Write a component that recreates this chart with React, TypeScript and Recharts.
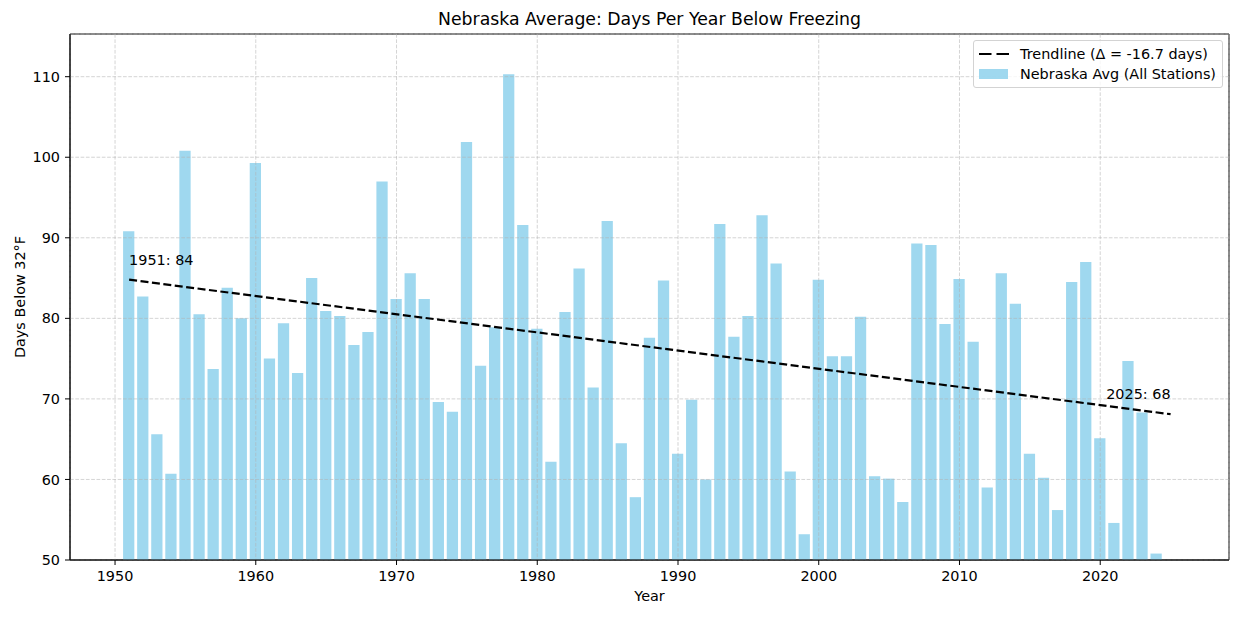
/**
 * FreezingDays — Nebraska days per year below 32°F, bars plus linear trend.
 */

import {
  ComposedChart,
  Bar,
  Line,
  XAxis,
  YAxis,
  CartesianGrid,
  Legend,
  ReferenceDot,
  ReferenceArea,
} from 'recharts';

const FIRST_YEAR = 1951;

// statewide average, one value per year 1951..2024
const daysBelowFreezing = [
  90.8, 82.7, 65.6, 60.7, 100.8, 80.5, 73.7, 83.8, 80.0, 99.3,
  75.0, 79.4, 73.2, 85.0, 80.9, 80.3, 76.7, 78.3, 97.0, 82.4,
  85.6, 82.4, 69.6, 68.4, 101.9, 74.1, 78.9, 110.3, 91.6, 78.7,
  62.2, 80.8, 86.2, 71.4, 92.1, 64.5, 57.8, 77.6, 84.7, 63.2,
  69.9, 60.0, 91.7, 77.7, 80.3, 92.8, 86.8, 61.0, 53.2, 84.8,
  75.3, 75.3, 80.2, 60.4, 60.1, 57.2, 89.3, 89.1, 79.3, 84.9,
  77.1, 59.0, 85.6, 81.8, 63.2, 60.2, 56.2, 84.5, 87.0, 65.1,
  54.6, 74.7, 68.3, 50.8,
];

const trendYears = [1951, 2025];
const trendValues = [84.8, 68.1];

const xTicks = [1950, 1960, 1970, 1980, 1990, 2000, 2010, 2020];
const yTicks = [50, 60, 70, 80, 90, 100, 110];

const X_DOMAIN: [number, number] = [1946.8, 2029.15];
const Y_DOMAIN: [number, number] = [50, 115.3];
const LABEL_OFFSET = 2.5;

const FONT = '"DejaVu Sans", sans-serif';
const FS = 14.4;
const BAR_FILL = '#87ceeb';
const delta = (trendValues[1] - trendValues[0]).toFixed(1);

const years = daysBelowFreezing.map((_, i) => FIRST_YEAR + i);
const allYears = Array.from(new Set([...years, ...trendYears])).sort((a, b) => a - b);

const data = allYears.map((year) => {
  const i = years.indexOf(year);
  const t = trendYears.indexOf(year);
  return {
    year,
    days: i >= 0 ? daysBelowFreezing[i] : null,
    trend: t >= 0 ? trendValues[t] : null,
  };
});

function LegendBox() {
  const row = { display: 'flex', alignItems: 'center', height: 20 } as const;
  return (
    <div
      style={{
        border: '1px solid #d3d3d3',
        borderRadius: 3,
        background: 'rgba(255,255,255,0.8)',
        padding: '3px 6px 3px 5px',
        fontFamily: FONT,
        fontSize: FS,
        lineHeight: '20px',
        color: '#000',
        whiteSpace: 'nowrap',
      }}
    >
      <div style={row}>
        <svg width={30} height={10}>
          <line x1={0} y1={5} x2={30} y2={5} stroke="#000" strokeWidth={2.2} strokeDasharray="12.5 5" />
        </svg>
        <span style={{ marginLeft: 11 }}>Trendline (Δ = {delta} days)</span>
      </div>
      <div style={row}>
        <svg width={30} height={10}>
          <rect x={0} y={0} width={29} height={10} fill={BAR_FILL} fillOpacity={0.8} />
        </svg>
        <span style={{ marginLeft: 11 }}>Nebraska Avg (All Stations)</span>
      </div>
    </div>
  );
}

function Annotation({ cx, cy, text, anchor }: { cx?: number; cy?: number; text: string; anchor: 'start' | 'end' }) {
  return (
    <text x={cx} y={cy} textAnchor={anchor} dominantBaseline="central" fontSize={FS} fontFamily={FONT} fill="#000">
      {text}
    </text>
  );
}

export default function App() {
  return (
    <div style={{ position: 'absolute', left: 0, top: 0, width: 1242, height: 620, fontFamily: FONT, background: '#fff' }}>
      <div
        style={{
          position: 'absolute',
          left: 70,
          width: 1159,
          top: 9,
          textAlign: 'center',
          fontSize: 17.3,
          lineHeight: '20px',
          color: '#000',
        }}
      >
        Nebraska Average: Days Per Year Below Freezing
      </div>
      <ComposedChart
        width={1242}
        height={620}
        data={data}
        margin={{ top: 34, right: 13, bottom: 0, left: 0 }}
        style={{ fontFamily: FONT }}
      >
        <XAxis
          dataKey="year"
          type="number"
          domain={X_DOMAIN}
          ticks={xTicks}
          allowDataOverflow
          height={60}
          tickSize={5}
          tickMargin={6}
          tick={{ fill: '#000', fontSize: FS }}
          tickLine={{ stroke: '#000' }}
          axisLine={{ stroke: '#000' }}
          label={{ value: 'Year', position: 'insideBottom', offset: 19, fill: '#000', fontSize: FS }}
        />
        <YAxis
          type="number"
          domain={Y_DOMAIN}
          ticks={yTicks}
          allowDataOverflow
          width={70}
          tickSize={5}
          tickMargin={5}
          tick={{ fill: '#000', fontSize: FS }}
          tickLine={{ stroke: '#000' }}
          axisLine={{ stroke: '#000' }}
          label={{
            value: 'Days Below 32°F',
            angle: -90,
            position: 'insideLeft',
            offset: 20,
            fill: '#000',
            fontSize: FS,
            style: { textAnchor: 'middle' },
          }}
        />
        <Bar dataKey="days" fill={BAR_FILL} fillOpacity={0.8} barSize={11.26} isAnimationActive={false} />
        <CartesianGrid stroke="#b0b0b0" strokeOpacity={0.55} strokeDasharray="3.7 1.6" zIndex={350} />
        <Line
          dataKey="trend"
          stroke="#000"
          strokeWidth={2.2}
          strokeDasharray="8 3.5"
          dot={false}
          activeDot={false}
          connectNulls
          isAnimationActive={false}
        />
        <ReferenceDot
          x={trendYears[0]}
          y={trendValues[0] + LABEL_OFFSET}
          r={1}
          shape={(p: any) => (
            <Annotation cx={p.cx} cy={p.cy} anchor="start" text={`${trendYears[0]}: ${Math.floor(trendValues[0])}`} />
          )}
        />
        <ReferenceDot
          x={trendYears[1]}
          y={trendValues[1] + LABEL_OFFSET}
          r={1}
          shape={(p: any) => (
            <Annotation cx={p.cx} cy={p.cy} anchor="end" text={`${trendYears[1]}: ${Math.floor(trendValues[1])}`} />
          )}
        />
        <ReferenceArea
          x1={X_DOMAIN[0]}
          x2={X_DOMAIN[1]}
          y1={Y_DOMAIN[0]}
          y2={Y_DOMAIN[1]}
          fill="none"
          stroke="#000"
          strokeWidth={1}
        />
        <Legend
          layout="vertical"
          align="center"
          verticalAlign="middle"
          content={() => <LegendBox />}
          wrapperStyle={{ left: 973, top: 40, width: 'auto' }}
        />
      </ComposedChart>
    </div>
  );
}
